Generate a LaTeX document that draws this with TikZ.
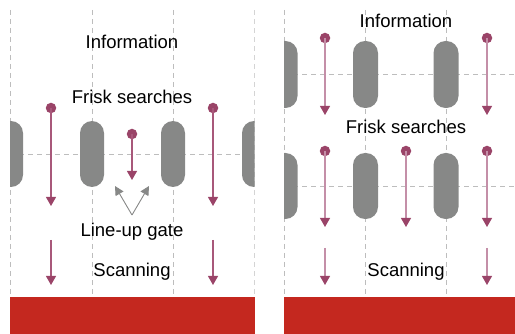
\documentclass[tikz,border=0pt]{standalone}
\usepackage{fontspec}
\setmainfont{Liberation Sans}
\usetikzlibrary{arrows.meta}
\definecolor{gatered}{HTML}{C4281F}
\definecolor{pillargray}{HTML}{878887}
\definecolor{guidegray}{HTML}{BDBDBD}
\definecolor{plum}{HTML}{9A4468}
\definecolor{plummid}{HTML}{A8587A}
\definecolor{plumlight}{HTML}{C48FA8}
\tikzset{
  guide/.style={draw=guidegray, line width=0.9pt, dash pattern=on 5pt off 4pt},
  pillar/.style={fill=pillargray, rounded corners=12pt},
  label/.style={font=\fontsize{18.5}{22}\selectfont, anchor=base, text=black, inner sep=0pt},
  dot/.style={circle, fill=plum, minimum size=10.5pt, inner sep=0pt},
  flow/.style={draw=#1, line width=1.1pt, -{Triangle[length=9pt, width=10pt, fill=plum, color=plum]}},
  flow/.default=plummid,
  hint/.style={draw=pillargray, line width=0.9pt, -{Triangle[length=9pt, width=9pt, fill=pillargray]}},
  floor/.style={fill=gatered}
}
\begin{document}
\begin{tikzpicture}[x=1pt, y=-1pt]
\useasboundingbox (0,0) rectangle (515,334);

% ---------- left panel: single lane ----------
\begin{scope}
  \clip (10,0) rectangle (254.5,334);
  \foreach \gx in {10.5, 92, 173, 254} {
    \draw[guide] (\gx,10) -- (\gx,297);
  }
  \draw[guide] (10,154) -- (254,154);
  \foreach \gx in {11, 92, 173, 254} {
    \path[pillar] (\gx-12,121) rectangle (\gx+12,187);
  }
\end{scope}
\path[floor] (10,297) rectangle (254.5,334);

\node[label] (infoL) at (132,49) {Information};
\node[label] (friskL) at (132,104) {Frisk searches};
\node[label] (gateL) at (132,236.5) {Line-up gate};
\node[label] (scanL) at (132,277) {Scanning};

\node[dot] (dL1) at (51,108) {};
\node[dot] (dL2) at (213,108) {};
\node[dot] (dL3) at (132,134) {};
\coordinate (eL1) at (51,206);
\coordinate (eL2) at (213,206);
\coordinate (eL3) at (132,180);
\draw[flow] (dL1.center) -- (eL1);
\draw[flow] (dL2.center) -- (eL2);
\draw[flow] (dL3.center) -- (eL3);

\coordinate (sL1) at (51,240);
\coordinate (tL1) at (51,285);
\coordinate (sL2) at (213,240);
\coordinate (tL2) at (213,285);
\draw[flow] (sL1) -- (tL1);
\draw[flow] (sL2) -- (tL2);

\coordinate (hint0) at (132,215);
\coordinate (hintA) at (115,186);
\coordinate (hintB) at (149,186);
\draw[hint] (hint0) -- (hintA);
\draw[hint] (hint0) -- (hintB);

% ---------- right panel: double lane ----------
\begin{scope}
  \clip (284,0) rectangle (515,334);
  \foreach \gx in {284.5, 365, 446} {
    \draw[guide] (\gx,10) -- (\gx,297);
  }
  \draw[guide] (284,74) -- (515,74);
  \draw[guide] (284,186) -- (515,186);
  \foreach \gx in {285, 365.5, 446} {
    \path[pillar] (\gx-12.5,41) rectangle (\gx+12.5,108);
    \path[pillar] (\gx-12.5,153) rectangle (\gx+12.5,219);
  }
\end{scope}
\path[floor] (284,297) rectangle (515,334);

\node[label] (infoR) at (406,28) {Information};
\node[label] (friskR) at (406,134) {Frisk searches};
\node[label] (scanR) at (406,277) {Scanning};

\node[dot] (dR1) at (325,38) {};
\node[dot] (dR2) at (487,38) {};
\coordinate (eR1) at (325,115);
\coordinate (eR2) at (487,115);
\draw[flow=plumlight] (dR1.center) -- (eR1);
\draw[flow=plumlight] (dR2.center) -- (eR2);

\node[dot] (dR3) at (325,151) {};
\node[dot] (dR4) at (406,151) {};
\node[dot] (dR5) at (487,151) {};
\coordinate (eR3) at (325,227);
\coordinate (eR4) at (406,227);
\coordinate (eR5) at (487,227);
\draw[flow=plumlight] (dR3.center) -- (eR3);
\draw[flow=plumlight] (dR4.center) -- (eR4);
\draw[flow=plumlight] (dR5.center) -- (eR5);

\coordinate (sR1) at (325,248);
\coordinate (tR1) at (325,285);
\coordinate (sR2) at (487,248);
\coordinate (tR2) at (487,285);
\draw[flow=plumlight] (sR1) -- (tR1);
\draw[flow=plumlight] (sR2) -- (tR2);
\end{tikzpicture}
\end{document}
